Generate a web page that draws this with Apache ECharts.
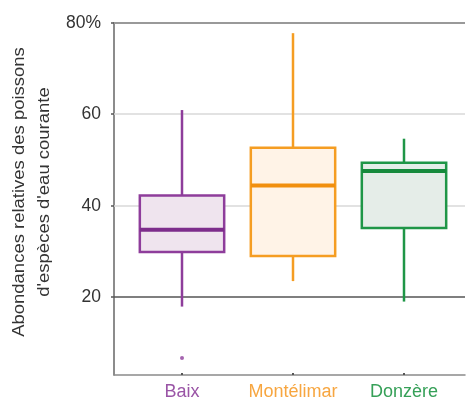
<!DOCTYPE html>
<html>
<head>
<meta charset="utf-8">
<script src="https://cdn.jsdelivr.net/npm/echarts@6/dist/echarts.min.js"></script>
<style>html,body{margin:0;padding:0;background:#fff}#c{width:466px;height:401px}</style>
</head>
<body>
<div id="c"></div>
<script>
// ---- data ----
var categories = ['Baix', 'Montélimar', 'Donzère'];
var whiskerLow = [17.6, 23.2, 18.7];
var q1 = [29.6, 28.7, 34.9];
var median = [34.5, 44.2, 47.4];
var q3 = [42.0, 52.5, 49.2];
var whiskerHigh = [60.8, 77.7, 54.5];
var outliers = [['Baix', 6.3]];
var yTicks = [20, 40, 60, 80];
var yTickLabels = ['20', '40', '60', '80%'];
var titleLines = ["Abondances relatives des poissons", "d'espèces d'eau courante"];

// ---- styles ----
var strokeColors = ['#8e3d9b', '#f59d22', '#1f9647'];
var medianColors = ['#7d2d8b', '#f18f0f', '#168a3c'];
var fillColors = ['#efe4ee', '#fff3e7', '#e5ede8'];
var labelColors = ['#9a55a6', '#f7a640', '#36a058'];
var gridLineStyles = {
  20: {color: '#555', width: 1.5},
  40: {color: '#d9d9d9', width: 1.5},
  60: {color: '#d9d9d9', width: 1.5},
  80: {color: '#999', width: 2}
};

var boxData = categories.map(function (c, i) {
  return [i, whiskerLow[i], q1[i], median[i], q3[i], whiskerHigh[i]];
});

var chart = echarts.init(document.getElementById('c'), null, {renderer: 'canvas'});
var FONT = 'Liberation Sans, Arial, sans-serif';

var option = {
  animation: false,
  grid: [
    {left: 114, right: 1, top: 22.7, bottom: 26},
    {left: 126.5, right: 6.5, top: 22.7, bottom: 26}
  ],
  xAxis: [
    {gridIndex: 0, type: 'value', min: 0, max: 1,
      axisLine: {show: true, onZero: false, lineStyle: {color: '#8a8a8a', width: 1.5}},
      axisTick: {show: false}, axisLabel: {show: false}, splitLine: {show: false}},
    {gridIndex: 1, type: 'category', data: categories.map(function (c, i) {
        return {value: c, textStyle: {color: labelColors[i]}};
      }),
      axisLine: {show: false},
      axisTick: {show: true, alignWithLabel: true, length: 2, lineStyle: {color: '#555', width: 2}},
      axisLabel: {interval: 0, fontSize: 18, fontFamily: FONT, margin: 10, hideOverlap: false},
      splitLine: {show: false}}
  ],
  yAxis: [
    {gridIndex: 0, type: 'value', min: 3, max: 80,
      axisLine: {show: true, lineStyle: {color: '#666', width: 1.5}},
      axisTick: {show: true, customValues: yTicks, length: 3, lineStyle: {color: '#555', width: 1.5}},
      axisLabel: {show: true, customValues: yTicks, margin: 13, fontSize: 17.5, fontFamily: FONT, color: '#333',
        formatter: function (v) { var k = yTicks.indexOf(v); return k >= 0 ? yTickLabels[k] : ''; }},
      splitLine: {show: false}},
    {gridIndex: 1, type: 'value', min: 3, max: 80, show: false, splitLine: {show: false}}
  ],
  series: [
    {
      type: 'line', xAxisIndex: 0, yAxisIndex: 0, data: [[0, 3]], showSymbol: false, symbol: 'none',
      lineStyle: {opacity: 0}, silent: true, z: 1,
      markLine: {
        silent: true, symbol: 'none', label: {show: false},
        data: yTicks.map(function (t) {
          return {yAxis: t, lineStyle: {type: 'solid', color: gridLineStyles[t].color, width: gridLineStyles[t].width}};
        })
      }
    },
    {
      type: 'custom', xAxisIndex: 1, yAxisIndex: 1, z: 5,
      data: boxData,
      encode: {x: 0, y: [1, 2, 3, 4, 5]},
      renderItem: function (params, api) {
        var i = api.value(0);
        var pLo = api.coord([i, api.value(1)]);
        var pQ1 = api.coord([i, api.value(2)]);
        var pMed = api.coord([i, api.value(3)]);
        var pQ3 = api.coord([i, api.value(4)]);
        var pHi = api.coord([i, api.value(5)]);
        var bw = api.size([1, 0])[0] * 0.76;
        var x = pQ1[0];
        var sc = strokeColors[i];
        return {
          type: 'group',
          children: [
            {type: 'line', shape: {x1: x, y1: pQ3[1], x2: x, y2: pHi[1]}, style: {stroke: sc, lineWidth: 2.5}},
            {type: 'line', shape: {x1: x, y1: pQ1[1], x2: x, y2: pLo[1]}, style: {stroke: sc, lineWidth: 2.5}},
            {type: 'rect', shape: {x: x - bw / 2, y: pQ3[1], width: bw, height: pQ1[1] - pQ3[1]},
              style: {fill: fillColors[i], stroke: sc, lineWidth: 2.5}},
            {type: 'line', shape: {x1: x - bw / 2, y1: pMed[1], x2: x + bw / 2, y2: pMed[1]},
              style: {stroke: medianColors[i], lineWidth: 4}}
          ]
        };
      }
    },
    {
      type: 'scatter', xAxisIndex: 1, yAxisIndex: 1, z: 6,
      data: outliers, symbol: 'circle', symbolSize: 4,
      itemStyle: {color: strokeColors[0]}
    }
  ],
  graphic: [
    {type: 'text', x: 19, y: 192, rotation: Math.PI / 2, scaleX: 1.12,
      style: {text: titleLines[0], font: '16.5px ' + FONT, fill: '#333', align: 'center', verticalAlign: 'middle'}},
    {type: 'text', x: 44, y: 192, rotation: Math.PI / 2, scaleX: 1.12,
      style: {text: titleLines[1], font: '16.5px ' + FONT, fill: '#333', align: 'center', verticalAlign: 'middle'}}
  ]
};
chart.setOption(option);
</script>
</body>
</html>
